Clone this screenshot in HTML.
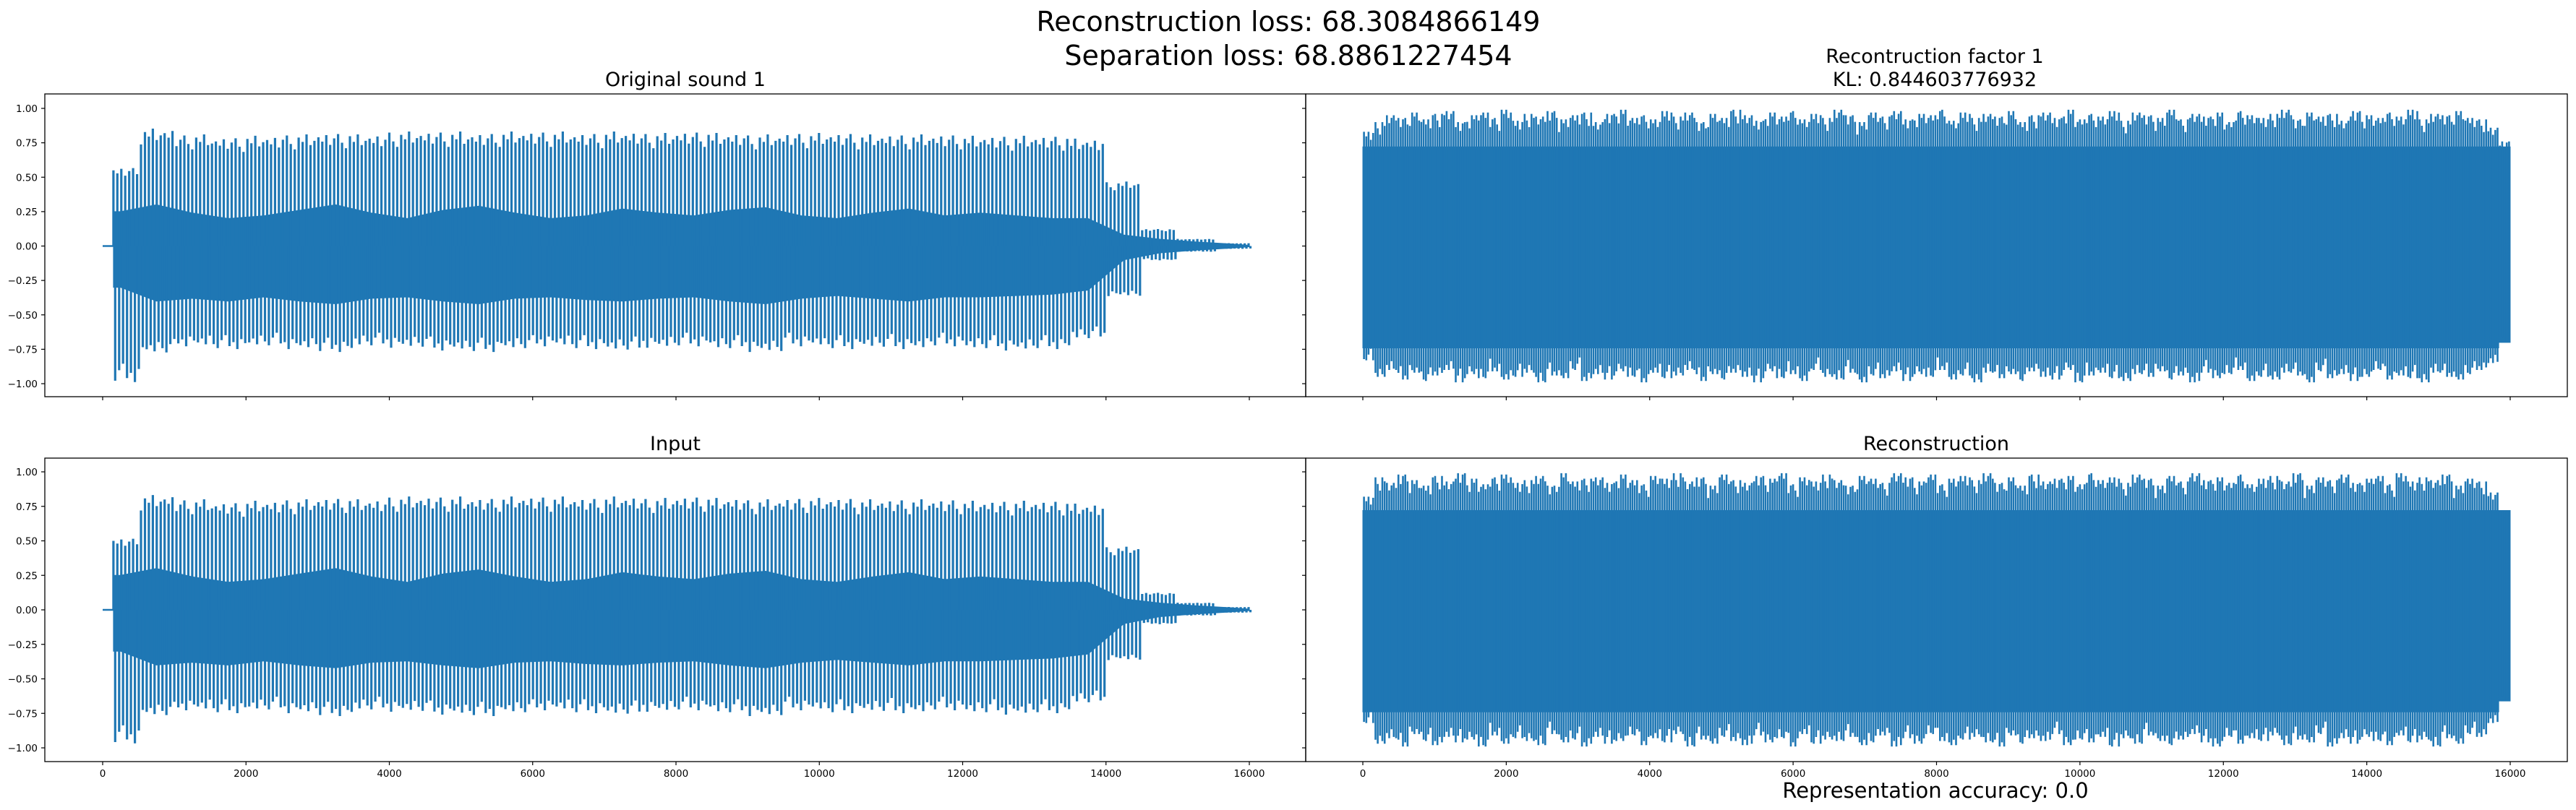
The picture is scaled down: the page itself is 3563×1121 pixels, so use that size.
<!DOCTYPE html>
<html><head><meta charset="utf-8"><style>
html,body{margin:0;padding:0;background:#fff;}
svg{display:block;}
text{font-family:"DejaVu Sans","Liberation Sans",sans-serif;fill:#000;}
</style></head><body>
<svg id="fig" width="3563" height="1121" viewBox="0 0 3563 1121" xmlns="http://www.w3.org/2000/svg">
<rect width="3563" height="1121" fill="#fff"/>
<text x="1782" y="43" font-size="38" text-anchor="middle">Reconstruction loss: 68.3084866149</text>
<text x="1782" y="90" font-size="38" text-anchor="middle">Separation loss: 68.8861227454</text>
<text x="948" y="119" font-size="27" text-anchor="middle">Original sound 1</text>
<text x="2676" y="87" font-size="27" text-anchor="middle">Recontruction factor 1</text>
<text x="2676" y="119" font-size="27" text-anchor="middle">KL: 0.844603776932</text>
<text x="934" y="623" font-size="27" text-anchor="middle">Input</text>
<text x="2678" y="623" font-size="27" text-anchor="middle">Reconstruction</text>
<text x="2677" y="1104" font-size="29" text-anchor="middle">Representation accuracy: 0.0</text>
<g id="plots"></g>
</svg>
<script>
// ---- data: left waveforms, bins of 500 samples ----
const binSize = 500;
const origSpikeTop = [0.55,0.82,0.78,0.76,0.77,0.78,0.79,0.78,0.8,0.8,0.79,0.8,0.8,0.79,0.8,0.79,0.8,0.79,0.78,0.79,0.79,0.78,0.78,0.78,0.77,0.77,0.77,0.75,0.45,0.12,0.05,0.02,0.01];
const origSpikeBot = [-0.95,-0.75,-0.7,-0.72,-0.7,-0.72,-0.74,-0.7,-0.71,-0.73,-0.74,-0.72,-0.7,-0.72,-0.73,-0.71,-0.7,-0.72,-0.74,-0.7,-0.72,-0.71,-0.72,-0.7,-0.72,-0.73,-0.72,-0.65,-0.35,-0.1,-0.04,-0.02,-0.01];
const origCoreTop = [0.25,0.3,0.24,0.2,0.22,0.26,0.3,0.24,0.2,0.26,0.29,0.24,0.2,0.22,0.27,0.24,0.22,0.26,0.28,0.22,0.2,0.24,0.27,0.22,0.24,0.22,0.2,0.2,0.08,0.05,0.03,0.015,0.005];
const origCoreBot = [-0.3,-0.4,-0.38,-0.4,-0.37,-0.4,-0.42,-0.38,-0.37,-0.4,-0.42,-0.38,-0.37,-0.39,-0.4,-0.38,-0.37,-0.4,-0.42,-0.38,-0.36,-0.38,-0.4,-0.37,-0.37,-0.36,-0.35,-0.32,-0.1,-0.05,-0.03,-0.015,-0.005];
const inputSpikeTop = [0.5,0.8,0.77,0.75,0.76,0.77,0.78,0.77,0.79,0.79,0.78,0.79,0.79,0.78,0.79,0.78,0.79,0.78,0.77,0.78,0.78,0.77,0.77,0.77,0.76,0.76,0.76,0.74,0.44,0.12,0.05,0.02,0.01];
const inputSpikeBot = [-0.93,-0.74,-0.7,-0.72,-0.7,-0.72,-0.74,-0.7,-0.71,-0.73,-0.74,-0.72,-0.7,-0.72,-0.73,-0.71,-0.7,-0.72,-0.74,-0.7,-0.72,-0.71,-0.72,-0.7,-0.72,-0.73,-0.72,-0.65,-0.35,-0.1,-0.04,-0.02,-0.01];
const inputCoreTop = origCoreTop.slice();
const inputCoreBot = origCoreBot.slice();
const spikeJitter = [1.0,0.96,1.02,0.93,0.99,1.03,0.95,0.9,1.01,0.97,1.04,0.94,0.98];
const spikePeriod = 55;
const onset = 150;
// ---- data: right waveforms, 100 bins of 160 samples ----
const rBin = 160;
const reconFactorTop = [0.83,0.9,0.95,0.93,0.97,0.92,0.96,0.98,0.9,0.95,0.97,0.93,0.99,0.91,0.96,0.94,0.98,0.92,0.95,0.97,0.9,0.96,0.99,0.93,0.95,0.92,0.98,0.94,0.97,0.9,0.96,0.93,0.99,0.95,0.91,0.97,0.94,0.98,0.92,0.96,0.93,0.99,0.95,0.9,0.97,0.94,0.98,0.92,0.96,0.95,0.99,0.91,0.97,0.93,0.96,0.94,0.98,0.9,0.95,0.97,0.93,0.99,0.92,0.96,0.94,0.98,0.91,0.97,0.95,0.93,0.99,0.92,0.96,0.94,0.97,0.9,0.98,0.95,0.93,0.96,0.99,0.92,0.97,0.94,0.96,0.91,0.98,0.95,0.93,0.97,0.94,0.99,0.92,0.96,0.95,0.98,0.93,0.92,0.86,0.76];
const reconFactorBot = [-0.83,-0.95,-0.9,-0.97,-0.92,-0.98,-0.94,-0.9,-0.99,-0.93,-0.96,-0.91,-0.97,-0.95,-0.92,-0.99,-0.94,-0.96,-0.9,-0.98,-0.93,-0.97,-0.91,-0.95,-0.99,-0.92,-0.96,-0.94,-0.9,-0.98,-0.93,-0.97,-0.92,-0.95,-0.99,-0.91,-0.96,-0.93,-0.98,-0.9,-0.95,-0.97,-0.92,-0.99,-0.94,-0.96,-0.91,-0.98,-0.93,-0.95,-0.9,-0.97,-0.94,-0.99,-0.92,-0.96,-0.93,-0.98,-0.91,-0.95,-0.97,-0.9,-0.99,-0.94,-0.92,-0.96,-0.98,-0.93,-0.95,-0.91,-0.97,-0.94,-0.99,-0.92,-0.96,-0.93,-0.9,-0.98,-0.95,-0.97,-0.92,-0.94,-0.99,-0.91,-0.96,-0.93,-0.98,-0.95,-0.9,-0.97,-0.94,-0.96,-0.99,-0.92,-0.95,-0.97,-0.93,-0.9,-0.85,-0.7];
const reconTop = [0.82,0.96,0.92,0.98,0.94,0.9,0.97,0.93,0.99,0.95,0.91,0.96,0.98,0.92,0.94,0.97,0.9,0.99,0.93,0.95,0.96,0.92,0.98,0.94,0.91,0.97,0.95,0.99,0.93,0.96,0.9,0.98,0.94,0.92,0.97,0.95,0.99,0.91,0.96,0.93,0.98,0.94,0.9,0.97,0.95,0.92,0.99,0.96,0.93,0.98,0.91,0.95,0.97,0.94,0.99,0.92,0.96,0.9,0.98,0.93,0.95,0.97,0.91,0.99,0.94,0.96,0.92,0.98,0.95,0.9,0.97,0.93,0.99,0.94,0.96,0.92,0.98,0.91,0.95,0.97,0.93,0.99,0.9,0.96,0.94,0.98,0.92,0.95,0.97,0.91,0.99,0.93,0.96,0.94,0.98,0.9,0.95,0.93,0.85,0.72];
const reconBot = [-0.82,-0.97,-0.93,-0.99,-0.9,-0.95,-0.98,-0.92,-0.96,-0.94,-0.99,-0.91,-0.97,-0.93,-0.95,-0.98,-0.9,-0.96,-0.94,-0.99,-0.92,-0.97,-0.95,-0.91,-0.98,-0.93,-0.96,-0.9,-0.99,-0.94,-0.97,-0.92,-0.95,-0.98,-0.91,-0.96,-0.93,-0.99,-0.9,-0.97,-0.94,-0.95,-0.92,-0.98,-0.96,-0.91,-0.99,-0.93,-0.97,-0.9,-0.95,-0.98,-0.94,-0.92,-0.96,-0.99,-0.91,-0.97,-0.93,-0.95,-0.9,-0.98,-0.94,-0.96,-0.92,-0.99,-0.93,-0.97,-0.91,-0.95,-0.98,-0.94,-0.9,-0.96,-0.99,-0.92,-0.97,-0.93,-0.95,-0.91,-0.98,-0.94,-0.96,-0.9,-0.99,-0.93,-0.97,-0.92,-0.95,-0.98,-0.91,-0.96,-0.94,-0.99,-0.93,-0.97,-0.9,-0.92,-0.82,-0.66];
const rCoreTop = 0.72;
const rCoreBot = -0.74;
const xTicks = [0,2000,4000,6000,8000,10000,12000,14000,16000];
const yTicks = [-1,-0.75,-0.5,-0.25,0,0.25,0.5,0.75,1];

const NS = "http://www.w3.org/2000/svg";
const root = document.getElementById('plots');
const BLUE = "#1f77b4";
function mk(tag, attrs, parent){
  const e = document.createElementNS(NS, tag);
  for (const k in attrs) e.setAttribute(k, attrs[k]);
  (parent||root).appendChild(e);
  return e;
}
const axesDefs = [
  {name:'original-sound', fx0:62, fx1:1806, fy0:130, fy1:549, x0:142, x1:1728, yz:340.5, yu:190.5, ylab:true, xlab:false},
  {name:'reconstruction-factor', fx0:1806, fx1:3551, fy0:130, fy1:549, x0:1885, x1:3472, yz:340.5, yu:190.5, ylab:false, xlab:false},
  {name:'input', fx0:62, fx1:1806, fy0:634, fy1:1054, x0:142, x1:1728, yz:844, yu:191, ylab:true, xlab:true},
  {name:'reconstruction', fx0:1806, fx1:3551, fy0:634, fy1:1054, x0:1885, x1:3472, yz:844, yu:191, ylab:false, xlab:true}
];
function sx(a, s){ return a.x0 + (a.x1-a.x0)*s/16000; }
function sy(a, v){ return a.yz - v*a.yu; }

function drawLeft(a, spikeTop, spikeBot, coreTop, coreBot){
  const g = mk('g', {});
  
  
  let top = [], bot = [];
  const n = coreTop.length;
  top.push([sx(a,onset), sy(a,coreTop[0])]);
  bot.push([sx(a,onset), sy(a,coreBot[0])]);
  for (let i=0;i<n;i++){
    const s = Math.min(16000, i*binSize + binSize/2);
    top.push([sx(a,s), sy(a,coreTop[i])]);
    bot.push([sx(a,s), sy(a,coreBot[i])]);
  }
  top.push([sx(a,16000), sy(a,coreTop[n-1])]);
  bot.push([sx(a,16000), sy(a,coreBot[n-1])]);
  const pts = top.concat(bot.reverse()).map(p=>p[0].toFixed(1)+','+p[1].toFixed(1)).join(' ');
  const band = mk('polygon', {points:pts, fill:BLUE, stroke:BLUE, 'stroke-width':1}, g);
  
  
  let d = '';
  let k = 0;
  for (let s=onset; s<16000; s+=spikePeriod, k++){
    const b = Math.min(spikeTop.length-1, Math.floor(s/binSize));
    const j1 = spikeJitter[k % spikeJitter.length];
    const j2 = spikeJitter[(k+5) % spikeJitter.length];
    const x = sx(a,s).toFixed(1);
    d += 'M'+x+','+sy(a,0).toFixed(1)+'V'+sy(a,spikeTop[b]*j1).toFixed(1);
    const x2 = sx(a,s+spikePeriod*0.45).toFixed(1);
    d += 'M'+x2+','+sy(a,0).toFixed(1)+'V'+sy(a,spikeBot[b]*j2).toFixed(1);
  }
  const sp = mk('path', {d:d, stroke:BLUE, 'stroke-width':3.2, fill:'none'}, g);
  
  
  const pre = mk('path', {d:'M'+sx(a,0)+','+sy(a,0)+'H'+sx(a,onset), stroke:BLUE, 'stroke-width':2.5}, g);
  
  
}
function drawRight(a, topv, botv){
  const g = mk('g', {});
  
  
  const n = topv.length;
  let top = [], bot = [];
  for (let i=0;i<n;i++){
    const s0 = i*rBin, s1 = Math.min(16000,(i+1)*rBin);
    const ct = Math.min(rCoreTop, topv[i]), cb = Math.max(rCoreBot, botv[i]);
    top.push([sx(a,s0), sy(a,ct)]); top.push([sx(a,s1), sy(a,ct)]);
    bot.push([sx(a,s0), sy(a,cb)]); bot.push([sx(a,s1), sy(a,cb)]);
  }
  const pts = top.concat(bot.reverse()).map(p=>p[0].toFixed(1)+','+p[1].toFixed(1)).join(' ');
  const poly = mk('polygon', {points:pts, fill:BLUE, stroke:BLUE, 'stroke-width':1}, g);
  
  
  let d = '';
  const offs = [0.1,0.3,0.5,0.7,0.9];
  for (let i=0;i<n;i++){
    offs.forEach((o,m)=>{
      const s = i*rBin + o*rBin;
      const x = sx(a,s).toFixed(1);
      const jt = spikeJitter[(i*5+m) % spikeJitter.length];
      const tv = Math.min(topv[i], topv[i]*jt);
      const bv = Math.max(botv[i], botv[i]*spikeJitter[(i*5+m+4) % spikeJitter.length]);
      d += 'M'+x+','+sy(a,0).toFixed(1)+'V'+sy(a,tv).toFixed(1);
      d += 'M'+x+','+sy(a,0).toFixed(1)+'V'+sy(a,bv).toFixed(1);
    });
  }
  const sp = mk('path', {d:d, stroke:BLUE, 'stroke-width':2.6, fill:'none'}, g);
  
  
}
function drawAxes(a){
  const g = mk('g', {});
  
  
  const fr = mk('rect', {x:a.fx0, y:a.fy0, width:a.fx1-a.fx0, height:a.fy1-a.fy0, fill:'none', stroke:'#000', 'stroke-width':1.3}, g);
  
  
  xTicks.forEach(t=>{
    const x = sx(a,t);
    const tk = mk('line', {x1:x, x2:x, y1:a.fy1, y2:a.fy1+5, stroke:'#000', 'stroke-width':1.2}, g);
    
    
    if (a.xlab){
      const tx = mk('text', {x:x, y:a.fy1+21, 'font-size':13.5, 'text-anchor':'middle'}, g);
      tx.textContent = String(t);
      
      
    }
  });
  yTicks.forEach(t=>{
    const y = sy(a,t);
    const tk = mk('line', {x1:a.fx0-5, x2:a.fx0, y1:y, y2:y, stroke:'#000', 'stroke-width':1.2}, g);
    
    
    if (a.ylab){
      const tx = mk('text', {x:a.fx0-10, y:y+5, 'font-size':13.5, 'text-anchor':'end'}, g);
      tx.textContent = (t<0?'\u2212':'') + Math.abs(t).toFixed(2);
      
      
    }
  });
}
drawLeft(axesDefs[0], origSpikeTop, origSpikeBot, origCoreTop, origCoreBot);
drawRight(axesDefs[1], reconFactorTop, reconFactorBot);
drawLeft(axesDefs[2], inputSpikeTop, inputSpikeBot, inputCoreTop, inputCoreBot);
drawRight(axesDefs[3], reconTop, reconBot);
axesDefs.forEach(drawAxes);
</script>
</body></html>
